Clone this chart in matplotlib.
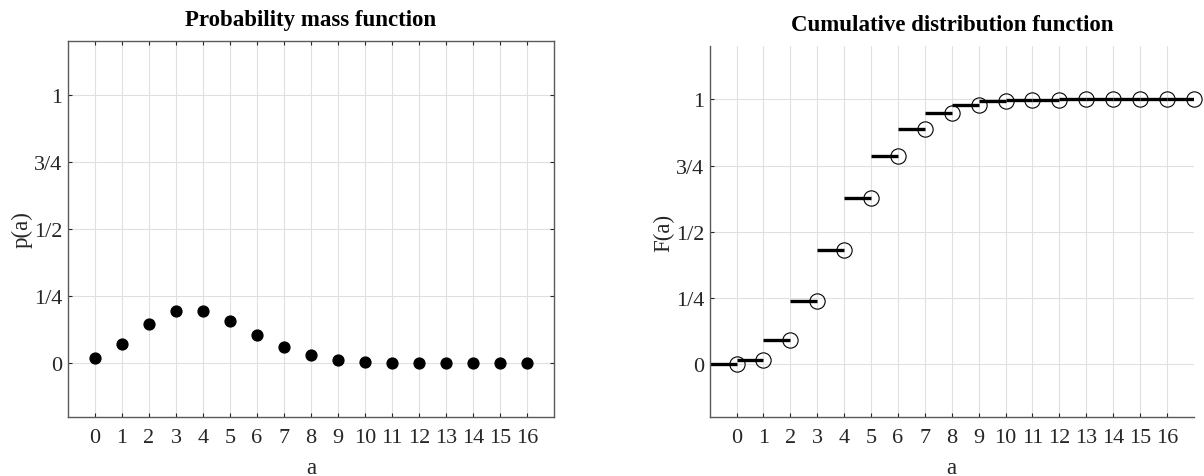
import matplotlib.pyplot as plt

plt.rcParams["font.family"] = ["Liberation Serif", "DejaVu Serif"]

# values
a_vals = list(range(17))
pmf = [0.018, 0.073, 0.147, 0.195, 0.195, 0.156, 0.104, 0.060, 0.030,
       0.013, 0.005, 0.002, 0.001, 0.0, 0.0, 0.0, 0.0]

# cdf level on [k, k+1), k = -1 .. 16
cdf_start = list(range(-1, 17))
cdf_vals = [0.0, 0.018, 0.092, 0.238, 0.433, 0.629, 0.785, 0.889, 0.949,
            0.979, 0.992, 0.997, 0.999, 1.0, 1.0, 1.0, 1.0, 1.0]

y_ticks = [0, 0.25, 0.5, 0.75, 1]
y_labels = ["0", "1/4", "1/2", "3/4", "1"]

dark = "#262626"


def style_axes(ax, box):
    ax.set_xlim(-1, 17)
    ax.set_ylim(-0.2, 1.2)
    ax.set_xticks(a_vals)
    ax.set_yticks(y_ticks)
    ax.set_yticklabels(y_labels)
    ax.grid(True, color="#e0e0e0", linewidth=0.8)
    ax.set_axisbelow(True)
    ax.tick_params(direction="in", length=3, width=0.8, color=dark,
                   labelcolor=dark, labelsize=16, top=box, right=box)
    ax.tick_params(axis="x", pad=8)
    ax.tick_params(axis="y", pad=4)
    for name, sp in ax.spines.items():
        sp.set_color("#5a5a5a")
        sp.set_linewidth(1.0)
        if not box and name in ("top", "right"):
            sp.set_visible(False)
    ax.set_xlabel("a", fontsize=16.5, color=dark, labelpad=7)


fig = plt.figure(figsize=(12.04, 4.77), dpi=100)
ax1 = fig.add_axes([0.0565, 0.1243, 0.4034, 0.787])
ax2 = fig.add_axes([0.5894, 0.1231, 0.4022, 0.7778])

style_axes(ax1, True)
ax1.plot(a_vals, pmf, "o", color="black", markersize=7.8, linestyle="none")
ax1.set_ylabel("p(a)", fontsize=16.5, color=dark, labelpad=1)
ax1.set_title("Probability mass function", fontsize=16.5, fontweight="bold", pad=12)

style_axes(ax2, False)
for k, v in zip(cdf_start, cdf_vals):
    ax2.plot([k, k + 1], [v, v], color="black", linewidth=2.4, solid_capstyle="butt")
    ax2.plot(k + 1, v, "o", markersize=11, markerfacecolor="none",
             markeredgecolor="black", markeredgewidth=0.8, clip_on=False)
ax2.set_ylabel("F(a)", fontsize=16.5, color=dark, labelpad=1)
ax2.set_title("Cumulative distribution function", fontsize=16.5, fontweight="bold", pad=12)

fig.savefig("out.png", dpi=100)
